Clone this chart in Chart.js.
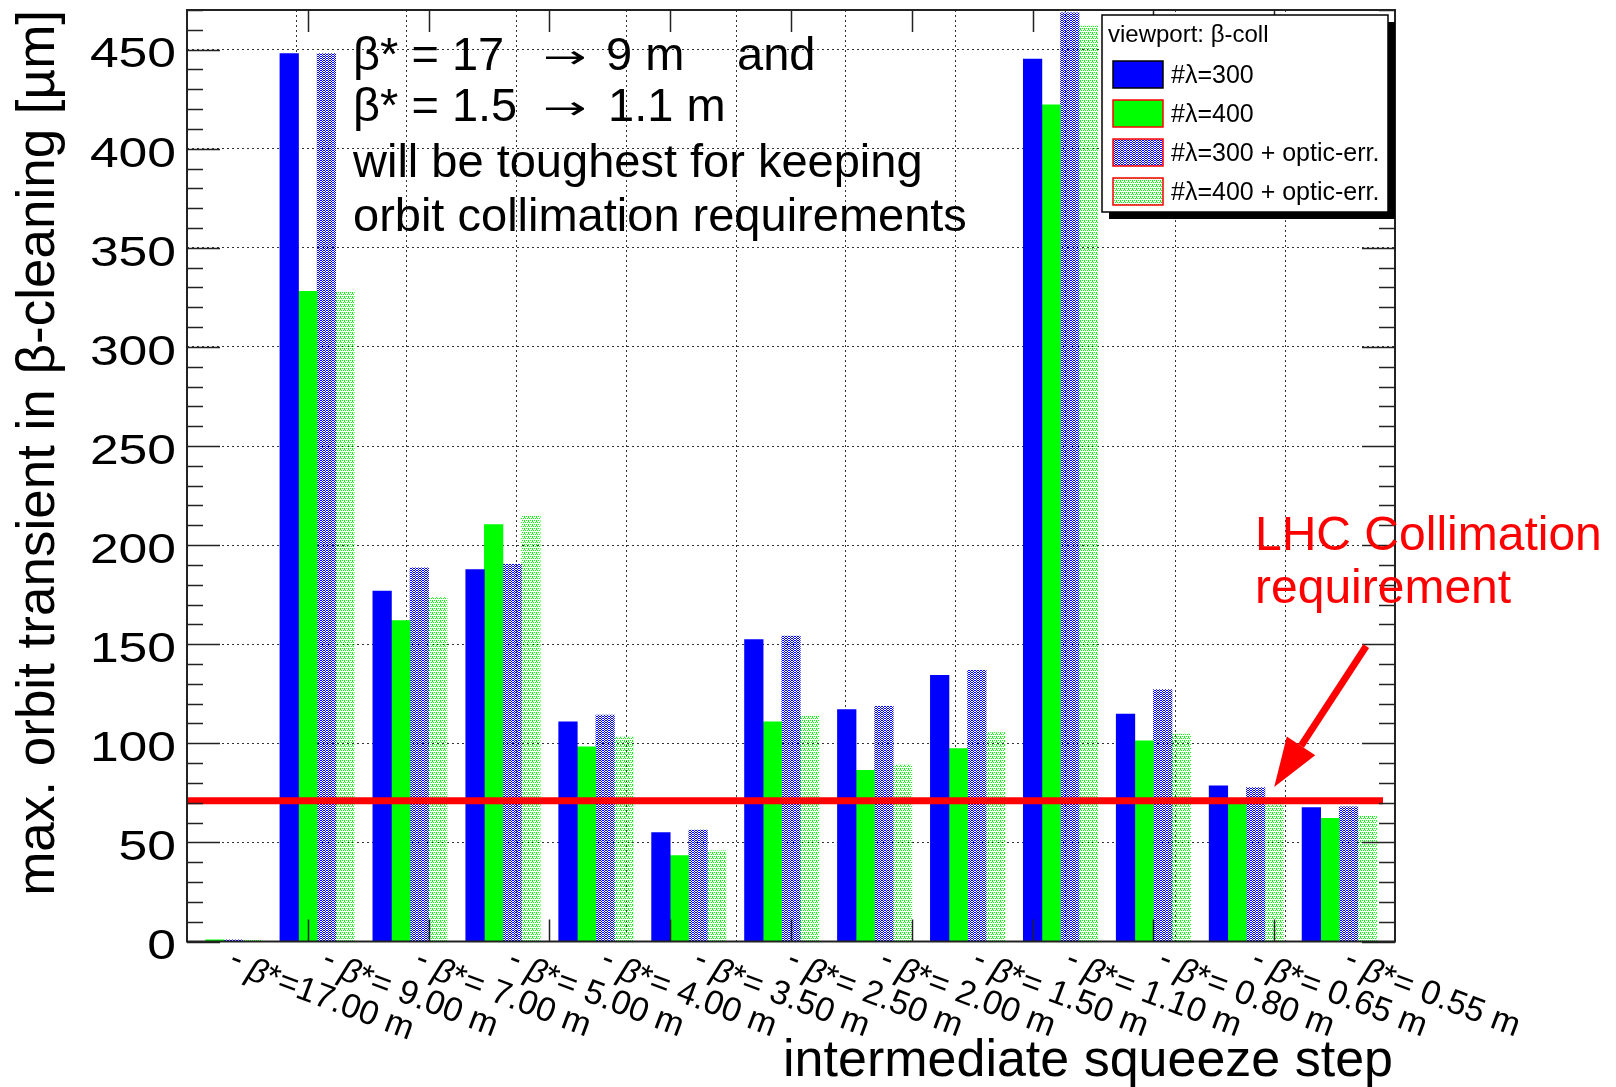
<!DOCTYPE html>
<html>
<head>
<meta charset="utf-8">
<title>Orbit transient in beta-cleaning per squeeze step</title>
<script src="https://cdn.jsdelivr.net/npm/chart.js@4.4.1/dist/chart.umd.min.js"></script>
<style>
  html, body { margin: 0; padding: 0; background: #fff; }
  #wrap { width: 1616px; height: 1087px; }
</style>
</head>
<body>
<div id="wrap"><canvas id="orbitChart" width="1616" height="1087"></canvas></div>
<script>
// squeeze steps (beta* in m) and max orbit transient per step [um]
const betaStar = [17.00, 9.00, 7.00, 5.00, 4.00, 3.50, 2.50, 2.00, 1.50, 1.10, 0.80, 0.65, 0.55];
const lambda300 = [0, 448, 176.8, 187.6, 110.8, 55.0, 152.3, 117.0, 134.3, 445.2, 114.7, 78.5, 67.6];
const lambda400 = [0.8, 328, 161.9, 210.3, 98.2, 43.3, 110.8, 86.4, 97.4, 422.1, 101.2, 71.0, 62.1];
const lambda300Err = [0.8, 448, 188.6, 190.3, 114.2, 56.2, 154.1, 118.7, 136.8, 468.6, 127.1, 77.7, 67.9];
const lambda400Err = [0.8, 328, 173.5, 214.5, 103.2, 45.8, 113.8, 89.0, 105.4, 461.9, 104.6, 69.0, 63.3];
const gapSlot = betaStar.map(() => 0);
const yTicks = [0, 50, 100, 150, 200, 250, 300, 350, 400, 450];
const collimationLimit = 71;

const FONT = '"Liberation Sans", Arial, Helvetica, sans-serif';
const canvas = document.getElementById('orbitChart');
const ctx0 = canvas.getContext('2d');

// ROOT-like dotted fill styles
function dotPattern(color, w, h, cells) {
  const tile = document.createElement('canvas');
  tile.width = w;
  tile.height = h;
  const g = tile.getContext('2d');
  g.fillStyle = color;
  cells.forEach(([cx, cy]) => g.fillRect(cx, cy, 1, 1));
  return ctx0.createPattern(tile, 'repeat');
}
const blueDots = dotPattern('#0000ff', 3, 2, [[0, 0], [1, 1], [2, 0]]);
const greenDots = dotPattern('#00ff00', 4, 4, [[0, 0], [2, 0], [1, 2], [3, 2], [0, 1]]);

const labels = betaStar.map(b => 'β*=' + b.toFixed(2).padStart(5, ' ') + ' m');

const decorations = {
  id: 'decorations',
  afterDraw(chart) {
    const { ctx, chartArea: a, scales: { x, y } } = chart;
    ctx.save();

    // collimation requirement line
    const yl = y.getPixelForValue(collimationLimit);
    ctx.strokeStyle = '#ff0000';
    ctx.lineWidth = 7;
    ctx.beginPath();
    ctx.moveTo(a.left, yl);
    ctx.lineTo(a.right - 12, yl);
    ctx.stroke();

    // frame
    ctx.strokeStyle = '#222';
    ctx.lineWidth = 2;
    ctx.strokeRect(a.left, a.top, a.right - a.left, a.bottom - a.top);

    // y ticks on both sides
    ctx.lineWidth = 1.5;
    ctx.beginPath();
    for (let v = 0; v <= y.max; v += 10) {
      const py = Math.round(y.getPixelForValue(v)) + 0.5;
      const len = v % 50 === 0 ? 33 : 16;
      ctx.moveTo(a.left, py);
      ctx.lineTo(a.left + len, py);
      ctx.moveTo(a.right, py);
      ctx.lineTo(a.right - len, py);
    }
    // x divisions on top and bottom
    for (let k = 1; k < 10; k++) {
      const px = Math.round(a.left + (a.right - a.left) * k / 10) + 0.5;
      ctx.moveTo(px, a.top);
      ctx.lineTo(px, a.top + 22);
      ctx.moveTo(px, a.bottom);
      ctx.lineTo(px, a.bottom - 22);
    }
    ctx.stroke();

    // y tick labels
    ctx.fillStyle = '#000';
    ctx.font = `43px ${FONT}`;
    ctx.textAlign = 'right';
    ctx.textBaseline = 'middle';
    yTicks.forEach(v => {
      ctx.save();
      ctx.translate(a.left - 11, y.getPixelForValue(v) + 6);
      ctx.scale(1.2, 1);
      ctx.fillText(String(v), 0, 0);
      ctx.restore();
    });

    // slanted category labels
    ctx.textAlign = 'left';
    ctx.textBaseline = 'top';
    chart.data.labels.forEach((lab, i) => {
      const px = x.getPixelForValue(i);
      ctx.save();
      ctx.translate(px + 2, a.bottom + 5);
      ctx.rotate(0.36);
      ctx.font = `34px ${FONT}`;
      ctx.fillText('-', 0, -5);
      ctx.font = `italic 34px ${FONT}`;
      ctx.fillText('β', 20, 0);
      const bw = ctx.measureText('β').width;
      ctx.font = `34px ${FONT}`;
      ctx.fillText(lab.slice(1), 20 + bw, 0);
      ctx.restore();
    });

    // axis titles
    ctx.font = `52px ${FONT}`;
    ctx.textAlign = 'right';
    ctx.textBaseline = 'alphabetic';
    ctx.fillText('intermediate squeeze step', a.right - 2, 1076);
    ctx.save();
    ctx.font = `53px ${FONT}`;
    ctx.translate(54, a.top);
    ctx.rotate(-Math.PI / 2);
    ctx.fillText('max. orbit transient in β-cleaning [µm]', 0, 0);
    ctx.restore();

    // comment block
    ctx.textAlign = 'left';
    ctx.font = `47px ${FONT}`;
    const tx = a.left + 166;
    ctx.fillText('β* = 17', tx, a.top + 60);
    ctx.fillText('9 m', tx + 253, a.top + 60);
    ctx.fillText('and', tx + 384, a.top + 60);
    ctx.fillText('β* = 1.5', tx, a.top + 111);
    ctx.fillText('1.1 m', tx + 255, a.top + 111);
    ctx.fillText('will be toughest for keeping', tx, a.top + 167);
    ctx.fillText('orbit collimation requirements', tx, a.top + 221);
    ctx.font = '40px "DejaVu Sans", sans-serif';
    [a.top + 60, a.top + 111].forEach(by => {
      ctx.save();
      ctx.translate(tx + 190, by - 2);
      ctx.scale(1.3, 0.8);
      ctx.fillText('→', 0, 0);
      ctx.restore();
    });

    // requirement label and arrow
    ctx.fillStyle = '#ff0000';
    ctx.font = `48px ${FONT}`;
    ctx.fillText('LHC Collimation', a.right - 140, 550);
    ctx.fillText('requirement', a.right - 140, 603);

    const x0 = x.getPixelForValue(12.19), y0 = y.getPixelForValue(149);
    const x1 = x.getPixelForValue(11.2), y1 = y.getPixelForValue(78);
    const ang = Math.atan2(y1 - y0, x1 - x0);
    const bx = x1 - 49 * Math.cos(ang), by = y1 - 49 * Math.sin(ang);
    ctx.strokeStyle = '#ff0000';
    ctx.lineWidth = 7;
    ctx.beginPath();
    ctx.moveTo(x0, y0);
    ctx.lineTo(bx, by);
    ctx.stroke();
    ctx.beginPath();
    ctx.moveTo(x1, y1);
    ctx.lineTo(bx + 17 * Math.sin(ang), by - 17 * Math.cos(ang));
    ctx.lineTo(bx - 17 * Math.sin(ang), by + 17 * Math.cos(ang));
    ctx.closePath();
    ctx.fill();

    // legend box with shadow
    const lx = a.right - 293, ly = a.top + 5, lw = 286, lh = 197;
    ctx.fillStyle = '#000';
    ctx.fillRect(lx + 7, ly + 7, lw, lh);
    ctx.fillStyle = '#fff';
    ctx.fillRect(lx, ly, lw, lh);
    ctx.strokeStyle = '#000';
    ctx.lineWidth = 1.5;
    ctx.strokeRect(lx, ly, lw, lh);
    ctx.fillStyle = '#000';
    ctx.font = `24px ${FONT}`;
    ctx.fillText('viewport: β-coll', lx + 6, ly + 27);
    chart.data.datasets.filter(d => !d.gap).forEach((d, i) => {
      const sy = ly + 46 + i * 39;
      ctx.fillStyle = d.backgroundColor;
      ctx.fillRect(lx + 11, sy, 50, 27);
      ctx.strokeStyle = d.swatchLine;
      ctx.lineWidth = 1.5;
      ctx.strokeRect(lx + 11, sy, 50, 27);
      ctx.fillStyle = '#000';
      ctx.font = `25px ${FONT}`;
      ctx.fillText(d.label, lx + 69, sy + 22);
    });

    ctx.restore();
  }
};

const grid = { color: '#333', lineWidth: 1, drawTicks: false };

new Chart(canvas, {
  type: 'bar',
  data: {
    labels: labels,
    datasets: [
      { label: '#λ=300', data: lambda300, backgroundColor: '#0000ff', swatchLine: '#000' },
      { label: '#λ=400', data: lambda400, backgroundColor: '#00ff00', swatchLine: '#ff0000' },
      { label: '#λ=300 + optic-err.', data: lambda300Err, backgroundColor: blueDots, swatchLine: '#ff0000' },
      { label: '#λ=400 + optic-err.', data: lambda400Err, backgroundColor: greenDots, swatchLine: '#ff0000' },
      { label: '', data: gapSlot, backgroundColor: 'rgba(0,0,0,0)', gap: true }
    ]
  },
  options: {
    responsive: false,
    animation: false,
    devicePixelRatio: 1,
    layout: { padding: { left: 187, right: 221, top: 10, bottom: 145.5 } },
    plugins: { legend: { display: false }, tooltip: { enabled: false } },
    datasets: { bar: { barPercentage: 1, categoryPercentage: 1, borderWidth: 0, clip: 0, xAxisID: 'x' } },
    scales: {
      x: {
        type: 'category', offset: true,
        grid: { display: false, drawTicks: false },
        ticks: { display: false },
        border: { display: false }
      },
      xd: {
        type: 'linear', position: 'bottom', min: 0, max: 10,
        grid: grid,
        ticks: { display: false, stepSize: 1 },
        border: { display: false, dash: [2, 3] }
      },
      y: {
        min: 0, max: 470,
        grid: grid,
        ticks: { display: false, stepSize: 50, includeBounds: false },
        border: { display: false, dash: [2, 3] }
      }
    }
  },
  plugins: [decorations]
});
</script>
</body>
</html>
